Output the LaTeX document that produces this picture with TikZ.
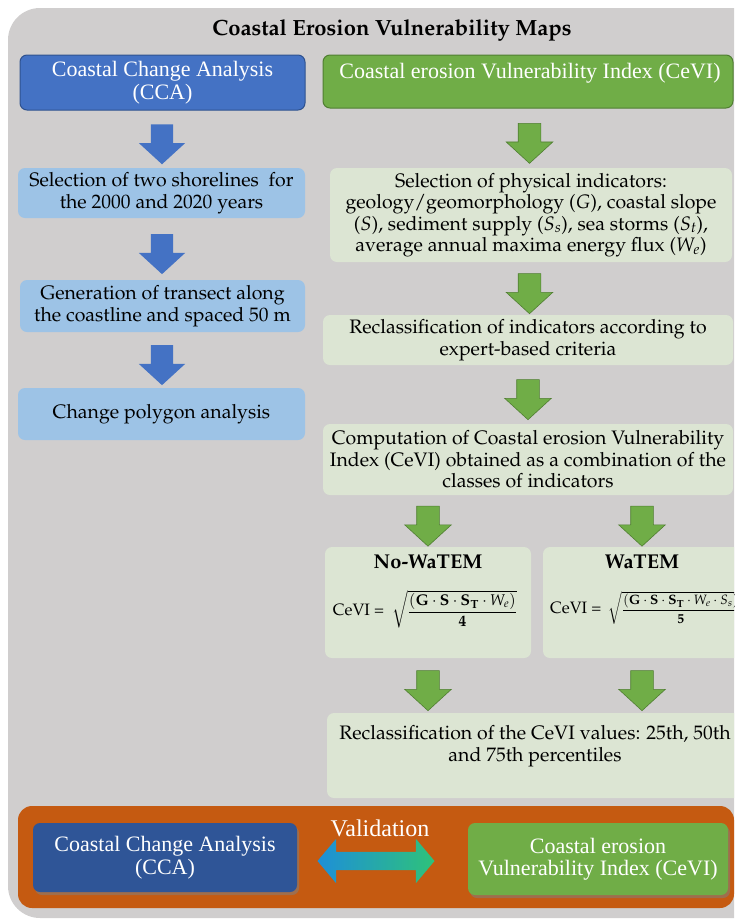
\documentclass[tikz,border=0pt]{standalone}
\usepackage{fontspec}
\newfontfamily\hdrfont{Liberation Serif}
\usepackage[T1]{fontenc}
\usepackage{mathpazo}
\usepackage{amsmath}
\usetikzlibrary{shapes.arrows,shadows,calc}

\definecolor{bggray}{HTML}{D0CECE}
\definecolor{hdrblue}{HTML}{4472C4}
\definecolor{hdrblueline}{HTML}{2F528F}
\definecolor{paleblue}{HTML}{9DC3E6}
\definecolor{hdrgreen}{HTML}{70AD47}
\definecolor{hdrgreenline}{HTML}{507E32}
\definecolor{palegreen}{HTML}{DCE5D3}
\definecolor{valorange}{HTML}{C55A11}
\definecolor{darkblue}{HTML}{2F5597}
\definecolor{arrowblue}{HTML}{1E8FD8}
\definecolor{arrowmid}{HTML}{EADFE4}
\definecolor{arrowgreen}{HTML}{2EC27A}

\newcommand{\cevilabel}{{\fontsize{16.5}{18}\selectfont CeVI =}}

\tikzset{
  x=1pt, y=-1pt,
  box/.style={rounded corners=7, inner sep=0pt, align=center},
  bodytext/.style={font=\fontsize{19.5}{21.5}\selectfont},
  hdrtext/.style={font=\hdrfont\fontsize{22}{22.5}\selectfont, text=white},
  hdrbluebox/.style={box, hdrtext, fill=hdrblue, draw=hdrblueline, line width=1pt},
  hdrgreenbox/.style={box, hdrtext, fill=hdrgreen, draw=hdrgreenline, line width=1pt},
  lightblue/.style={box, bodytext, fill=paleblue},
  lightgreen/.style={box, bodytext, fill=palegreen},
  downarrow/.style={single arrow, shape border rotate=270, inner sep=11pt,
    minimum height=40pt, single arrow head extend=12pt, single arrow tip angle=95},
  bluearrow/.style={downarrow, fill=hdrblue},
  greenarrow/.style={downarrow, fill=hdrgreen, draw=hdrgreenline, line width=0.6pt},
  valbox/.style={box, hdrtext, drop shadow={shadow xshift=2pt, shadow yshift=-3pt, opacity=0.55}},
  formula/.style={font=\fontsize{15.5}{17}\selectfont, inner sep=0pt},
  smallformula/.style={font=\fontsize{13.5}{15}\selectfont, inner sep=0pt},
  boxtitle/.style={font=\bfseries\fontsize{20}{22}\selectfont, inner sep=0pt},
}

\begin{document}
\begin{tikzpicture}
\path[use as bounding box] (0,0) rectangle (734,924);
\clip (0,0) rectangle (734,924);

% background panel
\fill[bggray, rounded corners=32] (8,8) rectangle (790,918);

% title
\node[font=\bfseries\fontsize{22}{24}\selectfont] (title) at (392,30) {Coastal Erosion Vulnerability Maps};

% left column: coastal change analysis
\node[hdrbluebox, minimum width=285, minimum height=55] (cca) at (162.5,82.5) {Coastal Change Analysis\\(CCA)};
\node[lightblue, minimum width=287, minimum height=50] (shore) at (161.5,193) {Selection of two shorelines\ \ for\\the 2000 and 2020 years};
\node[lightblue, minimum width=285, minimum height=52] (trans) at (162.5,306) {Generation of transect along\\the coastline and spaced 50 m};
\node[lightblue, minimum width=287, minimum height=52] (poly) at (161.5,414) {Change polygon analysis};

\node[bluearrow] (ba1) at ($(cca.south)!0.5!(shore.north)$) {};
\node[bluearrow] (ba2) at ($(shore.south)!0.5!(trans.north)$) {};
\node[bluearrow] (ba3) at ($(trans.south)!0.5!(poly.north)$) {};

% right column: CeVI
\node[hdrgreenbox, minimum width=410, minimum height=53] (cevi) at (528,81.5) {};
\node[hdrtext] (ceviT) at (530,73) {Coastal erosion Vulnerability Index (CeVI)};
\node[lightgreen, minimum width=402, minimum height=94] (ind) at (531,215)
  {Selection of physical indicators:\\
   geology/geomorphology ($G$), coastal slope\\
   ($S$), sediment supply ($S_s$), sea storms ($S_t$),\\
   average annual maxima energy flux ($W_e$)};
\node[lightgreen, minimum width=410, minimum height=50] (recl) at (528,340)
  {Reclassification of indicators according to\\expert-based criteria};
\node[lightgreen, minimum width=410, minimum height=71] (comp) at (528,459.5)
  {Computation of Coastal erosion Vulnerability\\Index (CeVI) obtained as a combination of the\\classes of indicators};

\node[greenarrow] (ga1) at ($(cevi.south)!0.5!(ind.north)$) {};
\node[greenarrow] (ga2) at ($(ind.south)!0.5!(recl.north)$) {};
\node[greenarrow] (ga3) at ($(recl.south)!0.5!(comp.north)$) {};

% the two index formulations
\node[box, fill=palegreen, minimum width=206, minimum height=111] (nowat) at (428,602.5) {};
\node[box, fill=palegreen, minimum width=206, minimum height=111] (wat) at (646,602.5) {};
\node[boxtitle] (nowatT) at (428,562) {No-WaTEM};
\node[boxtitle] (watT) at (642,562) {WaTEM};
\node[formula] (nowatF) at (425,609)
  {\cevilabel\ \ $\sqrt{\dfrac{(\mathbf{G}\cdot\mathbf{S}\cdot\mathbf{S}_{\mathbf{T}}\cdot W_e)}{\mathbf{4}}}$};
\node[smallformula, anchor=west] (watF) at (550,608)
  {\cevilabel\ \ $\sqrt{\dfrac{(\mathbf{G}\cdot\mathbf{S}\cdot\mathbf{S}_{\mathbf{T}}\cdot W_e\cdot S_s)}{\mathbf{5}}}$};

\node[greenarrow] (ga4) at ($(comp.south -| nowatT)!0.5!(nowat.north -| nowatT)$) {};
\node[greenarrow] (ga5) at ($(comp.south -| watT)!0.5!(wat.north -| watT)$) {};

\node[lightgreen, minimum width=418, minimum height=85] (perc) at (536,755.5) {};
\node[bodytext, align=center] (percT) at (535,746)
  {Reclassification of the CeVI values: 25th, 50th\\and 75th percentiles};

\node[greenarrow] (ga6) at ($(nowat.south -| nowatT)!0.5!(perc.north -| nowatT)$) {};
\node[greenarrow] (ga7) at ($(wat.south -| watT)!0.5!(perc.north -| watT)$) {};

% validation band
\node[box, fill=valorange, rounded corners=14, minimum width=716, minimum height=102] (band) at (376,857) {};
\node[valbox, fill=darkblue, minimum width=264, minimum height=69] (vcca) at (165,857.5) {Coastal Change Analysis\\(CCA)};
\node[valbox, fill=hdrgreen, minimum width=260, minimum height=72] (vcevi) at (598,859) {Coastal erosion\\Vulnerability Index (CeVI)};
\node[hdrtext, font=\hdrfont\fontsize{24}{26}\selectfont] (valT) at (380,828) {Validation};
\node[double arrow, inner sep=9pt, minimum height=117, double arrow head extend=13pt,
      double arrow tip angle=100,
      left color=arrowblue, middle color=arrowmid, right color=arrowgreen] (varrow) at (376,861) {};
\end{tikzpicture}
\end{document}
